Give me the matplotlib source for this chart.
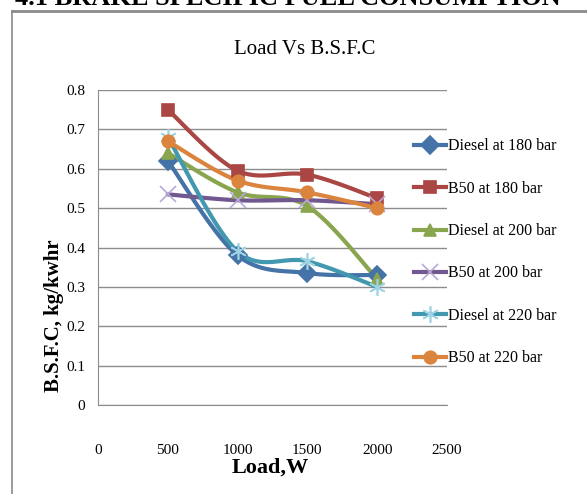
import numpy as np
import matplotlib
matplotlib.use("Agg")
import matplotlib.pyplot as plt
from matplotlib.lines import Line2D

loads = [500, 1000, 1500, 2000]
diesel_180 = [0.62, 0.38, 0.335, 0.33]
b50_180 = [0.75, 0.595, 0.585, 0.525]
diesel_200 = [0.64, 0.54, 0.505, 0.32]
b50_200 = [0.535, 0.52, 0.52, 0.51]
diesel_220 = [0.68, 0.39, 0.365, 0.30]
b50_220 = [0.67, 0.57, 0.54, 0.50]

labels = ["Diesel at 180 bar", "B50 at 180 bar", "Diesel at 200 bar",
          "B50 at 200 bar", "Diesel at 220 bar", "B50 at 220 bar"]
series = [diesel_180, b50_180, diesel_200, b50_200, diesel_220, b50_220]
colors = ["#4572A7", "#AA4643", "#89A54E", "#71588F", "#4198AF", "#DB843D"]
mcolors = ["#4572A7", "#AA4643", "#89A54E", "#B9A8D8", "#9ED3E3", "#DB843D"]
markers = ["D", "s", "^", "x", (6, 2, 0), "o"]

xticks = [0, 500, 1000, 1500, 2000, 2500]
yticks = [0, 0.1, 0.2, 0.3, 0.4, 0.5, 0.6, 0.7, 0.8]

plt.rcParams['font.family'] = ['Liberation Serif', 'DejaVu Serif']


def smooth(xs, ys, n=30):
    """Excel-like smoothed curve (Catmull-Rom bezier) through the data."""
    xs = np.asarray(xs, float)
    ys = np.asarray(ys, float)
    px = np.concatenate([[xs[0]], xs, [xs[-1]]])
    py = np.concatenate([[ys[0]], ys, [ys[-1]]])
    ox, oy = [], []
    t = np.linspace(0, 1, n)
    for i in range(1, len(px) - 2):
        p0 = np.array([px[i], py[i]])
        p3 = np.array([px[i + 1], py[i + 1]])
        c1 = p0 + (np.array([px[i + 1], py[i + 1]]) - np.array([px[i - 1], py[i - 1]])) / 6
        c2 = p3 - (np.array([px[i + 2], py[i + 2]]) - np.array([px[i], py[i]])) / 6
        b = ((1 - t) ** 3)[:, None] * p0 + (3 * (1 - t) ** 2 * t)[:, None] * c1 \
            + (3 * (1 - t) * t ** 2)[:, None] * c2 + (t ** 3)[:, None] * p3
        ox.extend(b[:, 0]); oy.extend(b[:, 1])
    return ox, oy


def msize(m):
    return 12 if (m == "x" or isinstance(m, tuple)) else 9


fig = plt.figure(figsize=(5.87, 4.94), dpi=100)
ax = fig.add_axes([98 / 587, 1 - 405 / 494, 349 / 587, 315 / 494])

for ys, lab, c, mc, m in zip(series, labels, colors, mcolors, markers):
    sx, sy = smooth(loads, ys)
    ax.plot(sx, sy, color=c, lw=3, solid_capstyle='round', zorder=3)
    ax.plot(loads, ys, linestyle='none', marker=m, color=mc, ms=msize(m),
            mec=mc, mew=1.2, zorder=4)

ax.set_xlim(0, 2500)
ax.set_ylim(0, 0.8)
ax.set_xticks(xticks)
ax.set_xticklabels([str(v) for v in xticks])
ax.set_yticks(yticks)
ax.set_yticklabels(["0"] + [f"{v:.1f}" for v in yticks[1:]])
ax.tick_params(axis='both', length=0, labelsize=11)
ax.tick_params(axis='x', pad=28)
ax.tick_params(axis='y', pad=9)
ax.yaxis.grid(True, color='#8c8c8c', lw=1)
ax.set_axisbelow(True)
for s in ['top', 'right']:
    ax.spines[s].set_visible(False)
ax.spines['left'].set_color('#8c8c8c')
ax.spines['bottom'].set_color('#8c8c8c')

# legend
handles = []
for c, mc, m in zip(colors, mcolors, markers):
    handles.append(Line2D([0], [0], color=c, lw=3, marker=m, ms=msize(m),
                          mfc=mc, mec=mc, mew=1.2))
fig.legend(handles, labels, loc='upper left', bbox_to_anchor=(408 / 587, 1 - 132 / 494),
           frameon=False, fontsize=11.5, handlelength=2.0, handletextpad=0.1,
           labelspacing=1.65, borderaxespad=0)

fig.text(305 / 587, 1 - 50 / 494, "Load Vs B.S.F.C", ha='center', va='center', fontsize=15)
fig.text(270 / 587, 1 - 468 / 494, "Load,W", ha='center', va='center', fontsize=16,
         fontweight='bold')
fig.text(54 / 587, 1 - 316 / 494, "B.S.F.C, kg/kwhr", ha='center', va='center',
         rotation=90, fontsize=15, fontweight='bold')

# partially visible heading at top and page border
fig.text(15 / 587, 1 - 5 / 494, "4.1 BRAKE SPECIFIC FUEL CONSUMPTION", ha='left',
         va='baseline', fontsize=19, fontweight='bold')
fig.add_artist(Line2D([12 / 587, 1], [1 - 11 / 494, 1 - 11 / 494], color='#8a8a8a', lw=2,
                      transform=fig.transFigure))
fig.add_artist(Line2D([12 / 587, 12 / 587], [0, 1 - 11 / 494], color='#8a8a8a', lw=1.2,
                      transform=fig.transFigure))

fig.savefig("out.png", dpi=100)
